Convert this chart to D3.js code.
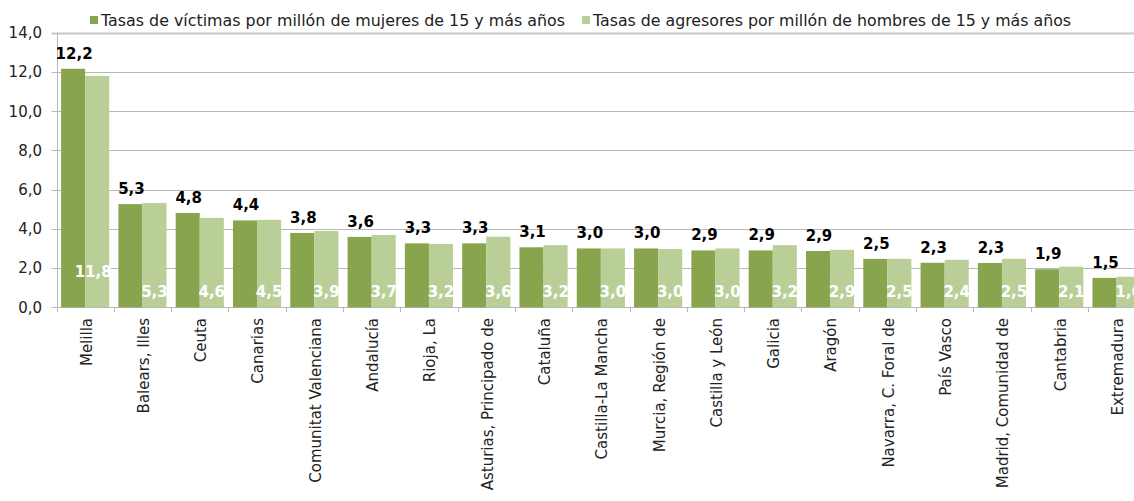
<!DOCTYPE html>
<html><head><meta charset="utf-8">
<script src="https://cdn.jsdelivr.net/npm/d3@7"></script>
<style>
html,body{margin:0;padding:0;background:#fff;overflow:hidden}
text{font-family:"DejaVu Sans",sans-serif}
</style></head>
<body><svg id="c" width="1134" height="501"></svg>
<script>
const categories = ["Melilla","Balears, Illes","Ceuta","Canarias","Comunitat Valenciana","Andalucía","Rioja, La","Asturias, Principado de","Cataluña","Castilla-La Mancha","Murcia, Región de","Castilla y León","Galicia","Aragón","Navarra, C. Foral de","País Vasco","Madrid, Comunidad de","Cantabria","Extremadura"];
const victimas = [12.16,5.26,4.81,4.43,3.79,3.59,3.26,3.26,3.06,3.0,3.0,2.9,2.9,2.87,2.47,2.27,2.26,1.94,1.5];
const agresores = [11.8,5.32,4.56,4.46,3.89,3.69,3.23,3.6,3.17,3.0,2.97,3.0,3.17,2.93,2.47,2.42,2.47,2.07,1.56];
const yTicks = [0,2,4,6,8,10,12,14];
const seriesNames = ["Tasas de víctimas por millón de mujeres de 15 y más años","Tasas de agresores por millón de hombres de 15 y más años"];
const colors = ["#88a44c","#bacf98"];

const svg = d3.select("#c");
const plotLeft = 56.5, band = 57.3, plotTop = 32.7, plotBottom = 307.3;
const x = d3.scaleBand().domain(categories).range([plotLeft, plotLeft + band*categories.length]).paddingInner(0.16).paddingOuter(0.08);
const x1 = d3.scaleBand().domain([0,1]).range([0, x.bandwidth()]);
const y = d3.scaleLinear().domain([0,14]).range([plotBottom, plotTop]);
const fmt = v => d3.format(".1f")(v).replace(".", ",");

// gridlines
svg.append("g").selectAll("line").data(yTicks).join("line")
  .attr("x1", plotLeft - 5).attr("x2", 1134)
  .attr("y1", d => Math.round(y(d)) + 0.5).attr("y2", d => Math.round(y(d)) + 0.5)
  .attr("stroke", d => d === 14 ? "#c8c8c8" : "#b8b8b8")
  .attr("stroke-width", d => d === 14 ? 2 : 1);

// y axis labels
svg.append("g").selectAll("text").data(yTicks).join("text")
  .attr("x", 42).attr("y", d => y(d)).attr("dy", "0.36em")
  .attr("text-anchor", "end").attr("font-size", 15).attr("fill", "#222")
  .text(d => fmt(d));

// y axis line
svg.append("line").attr("x1", Math.round(plotLeft)+0.5).attr("x2", Math.round(plotLeft)+0.5)
  .attr("y1", plotTop).attr("y2", plotBottom).attr("stroke", "#b8b8b8");

// x tick marks at band boundaries
const bounds = d3.range(categories.length + 1).map(i => plotLeft + i*band);
svg.append("g").selectAll("line").data(bounds).join("line")
  .attr("x1", d => Math.round(d)+0.5).attr("x2", d => Math.round(d)+0.5)
  .attr("y1", plotBottom).attr("y2", plotBottom + 5).attr("stroke", "#b8b8b8");

// bars
const groups = svg.append("g").selectAll("g").data(categories).join("g")
  .attr("transform", d => `translate(${x(d)},0)`);
groups.append("rect").attr("x", x1(0)).attr("width", x1.bandwidth())
  .attr("y", (d,i) => y(victimas[i])).attr("height", (d,i) => y(0) - y(victimas[i]))
  .attr("fill", colors[0]);
groups.append("rect").attr("x", x1(1)).attr("width", x1.bandwidth())
  .attr("y", (d,i) => y(agresores[i])).attr("height", (d,i) => y(0) - y(agresores[i]))
  .attr("fill", colors[1]);

// value labels
groups.append("text").attr("x", x1(0) + x1.bandwidth()/2 + 1)
  .attr("y", (d,i) => y(victimas[i]) - 10)
  .attr("text-anchor", "middle").attr("font-size", 15).attr("font-weight", "bold").attr("fill", "#000")
  .text((d,i) => fmt(victimas[i]));
groups.append("text").attr("x", (d,i) => x1(1) + x1.bandwidth()/2 + (i === 0 ? -4 : 0))
  .attr("y", (d,i) => y(0) - (i === 0 ? 30 : 10))
  .attr("text-anchor", "middle").attr("font-size", 15).attr("font-weight", "bold").attr("fill", "#fff")
  .text((d,i) => fmt(agresores[i]));

// x labels
svg.append("g").selectAll("text").data(categories).join("text")
  .attr("transform", d => `translate(${x(d) + x.bandwidth()/2 + 1},318) rotate(-90)`)
  .attr("dy", "0.36em").attr("text-anchor", "end").attr("font-size", 15).attr("fill", "#222")
  .text(d => d);

// legend
const legX = [90, 582], legW = [464, 478];
const leg = svg.append("g").selectAll("g").data(seriesNames).join("g");
leg.append("rect").attr("x", (d,i) => legX[i]).attr("y", 16).attr("width", 8).attr("height", 8)
  .attr("fill", (d,i) => colors[i]);
leg.append("text").attr("x", (d,i) => legX[i] + 11).attr("y", 26)
  .attr("font-size", 15).attr("fill", "#222")
  .attr("textLength", (d,i) => legW[i]).attr("lengthAdjust", "spacingAndGlyphs")
  .text(d => d);
</script></body></html>
